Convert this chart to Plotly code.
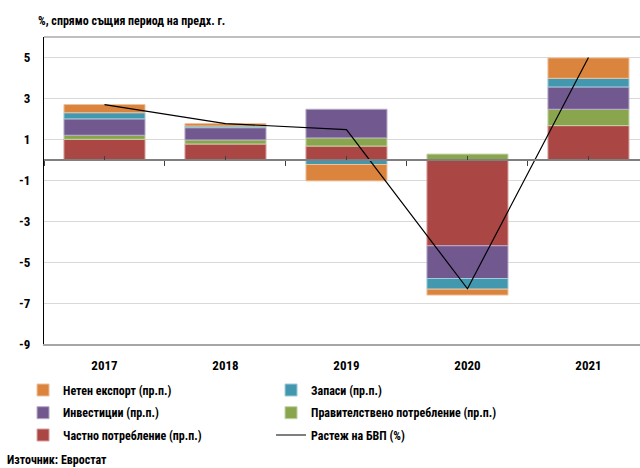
import plotly.graph_objects as go

years = ["2017", "2018", "2019", "2020", "2021"]
private_cons = [1.0, 0.77, 0.67, -4.2, 1.67]
gov_cons = [0.2, 0.2, 0.4, 0.28, 0.8]
investment = [0.8, 0.6, 1.4, -1.6, 1.09]
inventories = [0.3, 0.08, -0.23, -0.52, 0.42]
net_export = [0.4, 0.12, -0.8, -0.29, 1.0]
gdp_growth = [2.7, 1.77, 1.47, -6.3, 5.0]

y_ticks = [5, 3, 1, -1, -3, -5, -7, -9]

FONT = "Liberation Sans Narrow, Roboto Condensed, Arial Narrow, Liberation Sans, sans-serif"

series = [
    ("Частно потребление (пр.п.)", private_cons, "#AA4643", "#D9A09E", "legend3"),
    ("Правителствено потребление (пр.п.)", gov_cons, "#89A54E", "#C4D3A6", "legend2"),
    ("Инвестиции (пр.п.)", investment, "#71588F", "#B8ABC7", "legend2"),
    ("Запаси (пр.п.)", inventories, "#4198AF", "#A0CBD7", "legend"),
    ("Нетен експорт (пр.п.)", net_export, "#DB843D", "#EDC19E", "legend"),
]
rank = {"Нетен експорт (пр.п.)": 1, "Запаси (пр.п.)": 2, "Инвестиции (пр.п.)": 1,
        "Правителствено потребление (пр.п.)": 2, "Частно потребление (пр.п.)": 1}

fig = go.Figure()
for name, vals, col, edge, lg in series:
    fig.add_trace(go.Bar(
        x=years, y=vals, name=name, width=0.67,
        marker=dict(color=col, line=dict(color=edge, width=1)),
        legend=lg, legendrank=rank[name],
    ))

fig.add_trace(go.Scatter(
    x=years, y=gdp_growth, name="Растеж на БВП (%)", mode="lines",
    line=dict(color="black", width=1.2), legend="legend3", legendrank=2,
))

# dummy traces for the zero-crossing category axes
fig.add_trace(go.Scatter(x=[None], y=[None], xaxis="x2", showlegend=False, hoverinfo="skip"))
fig.add_trace(go.Scatter(x=[None], y=[None], xaxis="x3", showlegend=False, hoverinfo="skip"))

xr = [-0.5, 4.426]
fig.update_layout(
    width=640, height=468,
    margin=dict(l=44, r=0, t=37, b=124),
    paper_bgcolor="white", plot_bgcolor="white",
    barmode="relative",
    font=dict(family=FONT, size=13, color="black", weight="bold"),
    showlegend=True,
    xaxis=dict(
        type="category", range=xr, showgrid=False, ticks="",
        showline=True, linecolor="#A6A6A6", linewidth=1.5,
        tickfont=dict(family=FONT, size=13, weight="bold"),
        ticklabelstandoff=9,
    ),
    xaxis2=dict(
        overlaying="x", anchor="free", position=0.6, range=xr,
        showgrid=False, showticklabels=False, zeroline=False,
        showline=True, linecolor="#7F7F7F", linewidth=1.5,
        tickmode="linear", tick0=0.5, dtick=1, ticks="outside",
        ticklen=5, tickwidth=1.2, tickcolor="#404040",
    ),
    xaxis3=dict(
        overlaying="x", anchor="free", position=0.6, range=xr,
        showgrid=False, showticklabels=False, zeroline=False, showline=False,
        tickmode="linear", tick0=0, dtick=1, ticks="inside",
        ticklen=4, tickwidth=1.2, tickcolor="#404040",
    ),
    yaxis=dict(
        range=[-9, 6], tickvals=y_ticks, ticktext=[str(v) for v in y_ticks],
        showgrid=True, gridcolor="#D9D9D9", gridwidth=1, zeroline=False,
        showline=True, linecolor="black", linewidth=1.2, ticks="",
        tickfont=dict(family=FONT, size=13, weight="bold"),
        ticklabelstandoff=10,
    ),
    shapes=[dict(type="line", xref="paper", yref="paper", x0=0, x1=1, y0=1, y1=1,
                 line=dict(color="#BFBFBF", width=2), layer="above")],
)

leg_common = dict(orientation="h", xanchor="left", yanchor="middle",
                  xref="container", yref="container",
                  x=0.036, entrywidth=203, traceorder="normal",
                  font=dict(family=FONT, size=12, weight="bold"),
                  bgcolor="rgba(0,0,0,0)", itemclick=False)
fig.update_layout(
    legend=dict(y=1 - 390 / 468, **leg_common),
    legend2=dict(y=1 - 412.7 / 468, **leg_common),
    legend3=dict(y=1 - 435 / 468, **leg_common),
)

fig.add_annotation(text="%, спрямо същия период на предх. г.", xref="paper", yref="paper",
                   x=-0.013, y=1.052, xanchor="left", yanchor="middle", showarrow=False,
                   font=dict(family=FONT, size=12, weight="bold"))
fig.add_annotation(text="Източник: Евростат", xref="paper", yref="paper",
                   x=-0.0654, y=-0.378, xanchor="left", yanchor="middle", showarrow=False,
                   font=dict(family=FONT, size=12, weight="bold"))

fig.write_html("out.html", config={"displayModeBar": False},
               post_script="document.body.style.margin='0';document.body.style.padding='0';")
